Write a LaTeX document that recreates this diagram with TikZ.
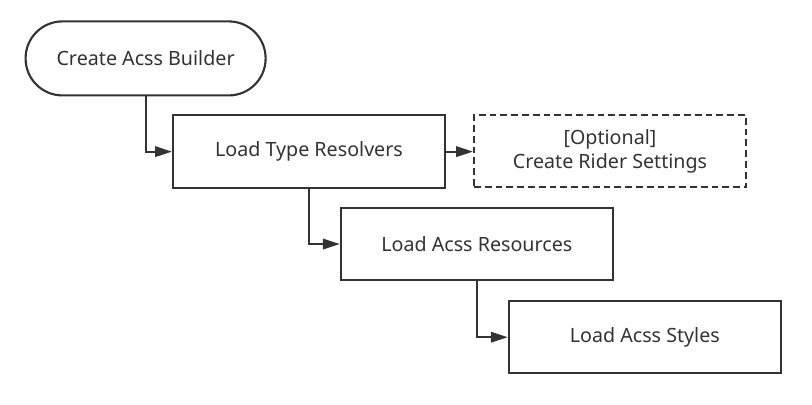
\documentclass[tikz,border=0pt]{standalone}
\usepackage{fontspec}
\setmainfont{Noto Sans}
\usetikzlibrary{arrows.meta,positioning}
\definecolor{lineclr}{RGB}{51,51,51}

\begin{document}
\begin{tikzpicture}[
    stepbox/.style={draw=lineclr, line width=1.5pt, minimum width=6.8cm,
                    minimum height=1.81cm, align=center, font=\fontsize{14}{17.5}\selectfont,
                    text=lineclr},
    startbox/.style={stepbox, minimum width=6cm, minimum height=1.85cm,
                     rounded corners=0.92cm},
    optbox/.style={stepbox, dash pattern=on 0.17cm off 0.1cm},
    flow/.style={-{Triangle[length=0.42cm,width=0.26cm]}, line width=1.5pt, draw=lineclr}
]
\useasboundingbox (0,0) rectangle (20.3,-10.1);
\node[startbox] (builder) at (3.64,-1.46) {Create Acss Builder};
\node[stepbox] (resolvers) at (7.725,-3.79) {Load Type Resolvers};
\node[optbox] (rider) at (15.25,-3.78) {[Optional]\\Create Rider Settings};
\node[stepbox] (resources) at (11.92,-6.1) {Load Acss Resources};
\node[stepbox] (styles) at (16.12,-8.43) {Load Acss Styles};

\draw[flow] (builder.south) |- (resolvers.west);
\draw[flow] (resolvers.east) -- (resolvers.east -| rider.west);
\draw[flow] (resolvers.south) |- (resources.west);
\draw[flow] (resources.south) |- (styles.west);
\end{tikzpicture}
\end{document}
